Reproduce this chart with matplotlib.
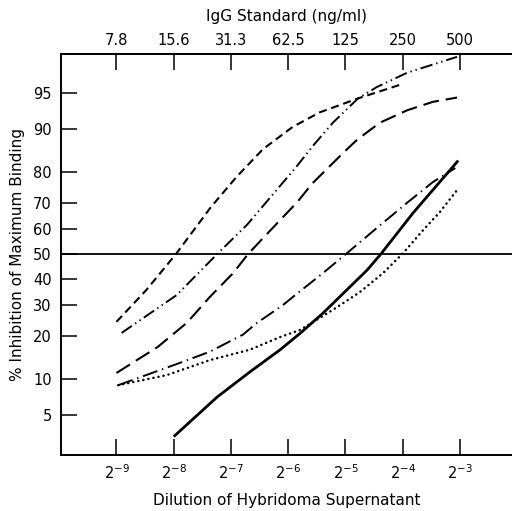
from statistics import NormalDist

import matplotlib

matplotlib.use("Agg")
import matplotlib.pyplot as plt
import numpy as np
from matplotlib.ticker import FixedLocator, NullLocator

# dilution exponents (log2) and % inhibition
a_x = [-9.0, -8.48, -7.96, -7.35, -6.90, -6.44, -5.92, -5.45, -4.78, -4.05]
a_y = [24.4, 35.6, 50.0, 68.4, 78.5, 85.8, 90.3, 92.6, 94.4, 95.8]

b_x = [-8.91, -7.95, -7.24, -6.72, -6.27, -5.85, -5.57, -5.22, -4.78, -4.45, -3.92, -3.05]
b_y = [21.0, 33.7, 50.0, 61.7, 72.8, 81.5, 86.5, 91.0, 94.4, 95.6, 96.8, 97.8]

c_x = [-9.0, -8.28, -7.77, -7.37, -6.96, -6.70, -6.27, -5.85, -5.57, -5.04, -4.80, -4.40, -3.92, -3.47, -3.05]
c_y = [11.2, 17.1, 24.1, 33.0, 42.3, 50.0, 60.5, 70.0, 76.6, 84.9, 87.8, 91.0, 92.9, 94.0, 94.5]

d_x = [-8.97, -7.89, -7.37, -6.79, -6.55, -6.09, -5.92, -5.39, -4.97, -4.45, -3.92, -3.47, -3.08]
d_y = [9.0, 13.3, 15.9, 20.5, 24.0, 30.1, 33.0, 42.3, 50.4, 60.5, 70.0, 76.9, 81.0]

e_x = [-8.97, -8.12, -7.37, -6.67, -6.14, -5.79, -5.22, -4.75, -4.34, -3.99, -3.64, -3.35, -3.05]
e_y = [9.0, 10.8, 13.9, 16.4, 19.8, 21.9, 28.4, 34.8, 42.3, 50.4, 59.7, 66.6, 74.3]

f_x = [-8.0, -7.24, -6.67, -6.14, -5.79, -5.39, -4.62, -4.38, -3.82, -3.03]
f_y = [3.1, 7.2, 11.4, 16.4, 20.9, 27.3, 43.5, 50.0, 66.2, 83.0]

bottom_exps = [-9, -8, -7, -6, -5, -4, -3]
top_ticks = [7.8125, 15.625, 31.25, 62.5, 125, 250, 500]
top_labels = ["7.8", "15.6", "31.3", "62.5", "125", "250", "500"]
y_ticks = [5, 10, 20, 30, 40, 50, 60, 70, 80, 90, 95]

nd = NormalDist()
_inv = np.vectorize(lambda p: nd.inv_cdf(min(max(p / 100.0, 1e-9), 1 - 1e-9)), otypes=[float])
_cdf = np.vectorize(lambda z: nd.cdf(z) * 100.0, otypes=[float])


def probit(p):
    return _inv(np.asarray(p, dtype=float))


def inv_probit(z):
    return _cdf(np.asarray(z, dtype=float))


plt.rcParams["lines.scale_dashes"] = False
plt.rcParams["font.family"] = "DejaVu Sans"

fig = plt.figure(figsize=(5.12, 5.11), dpi=100)
ax = fig.add_axes([0.119, 0.1096, 0.881, 0.7848])

ax.set_xscale("log", base=2)
ax.set_yscale("function", functions=(probit, inv_probit))

ax.plot(2.0 ** np.array(a_x), a_y, color="black", lw=1.5, dashes=(5.8, 3.4))
ax.plot(2.0 ** np.array(b_x), b_y, color="black", lw=1.4, dashes=(9, 2.8, 1, 2.8, 1, 2.8))
ax.plot(2.0 ** np.array(c_x), c_y, color="black", lw=1.5, dashes=(11.5, 5))
ax.plot(2.0 ** np.array(d_x), d_y, color="black", lw=1.4, dashes=(11, 3.5, 1, 3.5))
ax.plot(2.0 ** np.array(e_x), e_y, color="black", lw=1.8, dashes=(0.1, 3.6), dash_capstyle="round")
ax.plot(2.0 ** np.array(f_x), f_y, color="black", lw=2.0, solid_capstyle="butt")
ax.axhline(50, color="black", lw=1.3)

ax.set_xlim(2.0 ** -9.97, 2.0 ** -2.09)
ax.set_ylim(2.0, 97.95)

ax.xaxis.set_major_locator(FixedLocator([2.0 ** e for e in bottom_exps]))
ax.xaxis.set_minor_locator(NullLocator())
ax.set_xticklabels([r"$2^{%d}$" % e for e in bottom_exps])
ax.yaxis.set_major_locator(FixedLocator(y_ticks))
ax.yaxis.set_minor_locator(NullLocator())
ax.set_yticklabels([str(v) for v in y_ticks])

ax.tick_params(direction="in", length=11.5, width=1.1, labelsize=10.5, pad=6)
ax.tick_params(axis="y", pad=6.5)

for side in ["left", "bottom", "top"]:
    ax.spines[side].set_linewidth(1.4)
ax.spines["right"].set_visible(False)

top = ax.secondary_xaxis("top", functions=(lambda d: d * 4000.0, lambda n: n / 4000.0))
top.xaxis.set_major_locator(FixedLocator(top_ticks))
top.xaxis.set_minor_locator(NullLocator())
top.set_xticklabels(top_labels)
top.tick_params(direction="in", length=11.5, width=1.1, labelsize=10.5, pad=4)
top.spines["top"].set_linewidth(1.4)
top.set_xlabel("IgG Standard (ng/ml)", fontsize=11, labelpad=9)

ax.set_xlabel("Dilution of Hybridoma Supernatant", fontsize=11, labelpad=8)
ax.set_ylabel("% Inhibition of Maximum Binding", fontsize=11, labelpad=6)

fig.savefig("out.png", dpi=100)
